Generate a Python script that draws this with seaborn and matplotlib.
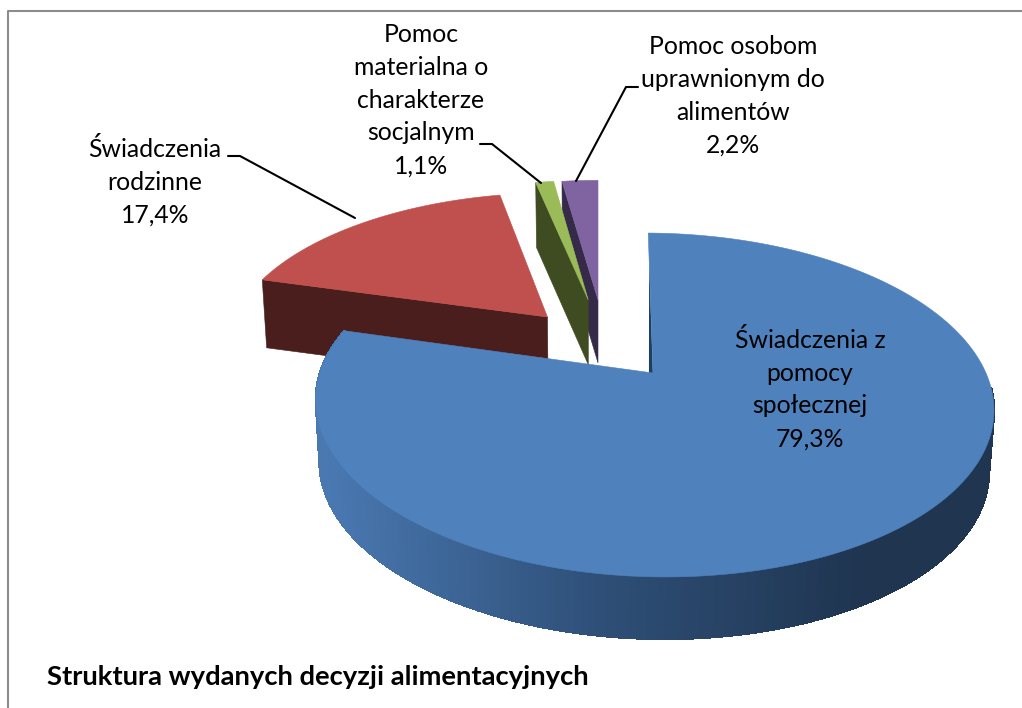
import numpy as np
import matplotlib
matplotlib.use('Agg')
import matplotlib.pyplot as plt
import seaborn as sns

# data
categories = ['Świadczenia z\npomocy\nspołecznej', 'Świadczenia\nrodzinne',
              'Pomoc\nmaterialna o\ncharakterze\nsocjalnym',
              'Pomoc osobom\nuprawnionym do\nalimentów']
values = [79.3, 17.4, 1.1, 2.2]
value_labels = ['79,3%', '17,4%', '1,1%', '2,2%']
title = 'Struktura wydanych decyzji alimentacyjnych'

# colours
top_colors = ['#4F81BD', '#C0504D', '#9BBB59', '#8064A2']
wall_colors = ['#1D3F60', '#4A1E1D', '#3F4C22', '#352A48']

# layout, all in pixels of the 1022x708 picture
PX, CY = 598, 373       # vanishing x, y of the blue apex
RX, RY = 333, 166
PERSP = 0.186
BLUE_TILT = 0.8         # the blue edge leans a little in the reference
centers = [(0.165, 0.0), (-0.162, 0.36), (-0.032, 0.48), (0.0, 0.48)]   # exploded apex in disc units
depths = [62, 68, 65, 63]
BOTTOM_SCALE = 0.987
label_pos = [(810, 389), (155, 182), (421, 100), (733, 96)]
leaders = [None,
           [(228, 156), (240, 156), (355, 218)],
           [(480, 144), (492, 144), (541, 183)],
           [(638, 87), (626, 87), (576, 181)]]

sns.set_theme(style='white')
plt.rcParams['font.family'] = ['Lato', 'DejaVu Sans']


def project(u, v):
    w = 1 + PERSP * v
    return PX + RX * u / w, CY - RY * v / w


def down(x, y, depth):
    return PX + (x - PX) * BOTTOM_SCALE, y + depth


def rim(i, a, b, n=120):
    th = np.radians(np.linspace(a, b, n))
    return project(centers[i][0] + np.sin(th), centers[i][1] + np.cos(th))


fig, ax = plt.subplots(figsize=(10.22, 7.08), dpi=100)
fig.subplots_adjust(0, 0, 1, 1)
ax.set_xlim(0, 1022)
ax.set_ylim(708, 0)
ax.axis('off')

# chart frame
ax.plot([8, 8, 1022], [708, 11, 11], color='#8C8C8C', lw=1.5)

edges = np.cumsum([0] + values) * 3.6


def draw_slice(i):
    a, b = edges[i], edges[i + 1]
    xs, ys = rim(i, a, b)
    ax_, ay_ = project(*centers[i])
    # radial wall on the left edge of the slice (where the slice starts, clockwise)
    wx = [xs[0], ax_, down(ax_, ay_, depths[i])[0], down(xs[0], ys[0], depths[i])[0]]
    wy = [ys[0], ay_, ay_ + depths[i], ys[0] + depths[i]]
    ax.fill(wx, wy, color=wall_colors[i], lw=0.4)
    ax.fill(np.r_[ax_, xs], np.r_[ay_, ys], color=top_colors[i], lw=0.4)


# back slices first, green lies over the purple wall, blue goes on top of everything
for i in [1, 3, 2]:
    draw_slice(i)

# blue outer wall with gradient along x, only the part that faces the viewer
xs, ys = rim(0, 95, edges[1], 500)
grad = sns.blend_palette(['#4A79B2', '#2F5079', '#1F3550'], 256)
for k in range(len(xs) - 1):
    t = np.clip((xs[k] - 320) / (860 - 320), 0, 1)
    c = grad[int(t * 255)]
    bx0 = down(xs[k], ys[k], depths[0])[0]
    bx1 = down(xs[k + 1], ys[k + 1], depths[0])[0]
    ax.fill([xs[k], xs[k + 1], bx1, bx0],
            [ys[k], ys[k + 1], ys[k + 1] + depths[0], ys[k] + depths[0]],
            facecolor=c, edgecolor=c, lw=1, antialiased=False)

# thin sliver of the inner wall next to the blue edge, then the blue top
xs, ys = rim(0, edges[0] + BLUE_TILT, edges[1], 500)
ax0, ay0 = project(*centers[0])
sx = xs[0] + 0.18 * (ax0 - xs[0])
sy = ys[0] + 0.18 * (ay0 - ys[0])
ax.fill([sx, ax0, ax0 - 4], [sy, ay0, ay0], color=wall_colors[0], lw=0)
ax.fill(np.r_[ax0, xs], np.r_[ay0, ys], color=top_colors[0], lw=0.4)

# labels
for i, (x, y) in enumerate(label_pos):
    ax.text(x, y, categories[i] + '\n' + value_labels[i], ha='center', va='center',
            fontsize=17.8, color='black', linespacing=1.52)
    if leaders[i]:
        lx, ly = zip(*leaders[i])
        ax.plot(lx, ly, color='black', lw=1.5, solid_joinstyle='miter')

ax.text(47, 677, title, ha='left', va='center', fontsize=19.7, fontweight='bold', color='black')

fig.savefig('out.png', dpi=100)
